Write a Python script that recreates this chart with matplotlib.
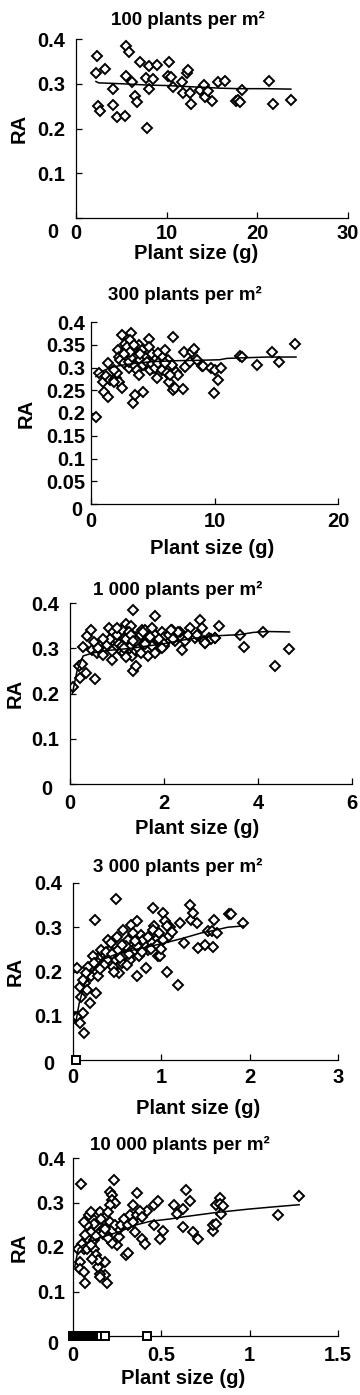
import numpy as np
import matplotlib
matplotlib.use("Agg")
import matplotlib.pyplot as plt
import matplotlib.transforms as mtransforms

plt.rcParams['font.family'] = ['Liberation Sans', 'DejaVu Sans']
plt.rcParams['font.weight'] = 'bold'

# ---- data ----
titles = ["100 plants per m²", "300 plants per m²", "1 000 plants per m²",
          "3 000 plants per m²", "10 000 plants per m²"]

# 100 plants per m2
x1 = [2.28, 2.17, 3.2, 2.39, 2.64, 4.04, 4.04, 4.48, 5.4, 5.5, 5.88, 5.5, 6.13, 6.5,
      6.7, 7.05, 7.79, 7.7, 8.08, 8.08, 8.45, 8.89, 10.28, 10.1, 10.46, 10.7, 11.64,
      11.75, 12.19, 12.37, 12.56, 12.67, 13.66, 14.1, 14.2, 14.58, 14.95, 15.68, 16.41,
      17.7, 17.9, 18.07, 18.33, 21.3, 21.74, 23.69]
y1 = [0.361, 0.323, 0.333, 0.251, 0.240, 0.288, 0.253, 0.226, 0.229, 0.385, 0.372,
      0.318, 0.305, 0.273, 0.260, 0.349, 0.201, 0.313, 0.339, 0.288, 0.311, 0.343,
      0.349, 0.317, 0.314, 0.293, 0.304, 0.279, 0.323, 0.330, 0.279, 0.255, 0.287,
      0.298, 0.270, 0.283, 0.261, 0.303, 0.307, 0.261, 0.264, 0.259, 0.285, 0.307,
      0.255, 0.264]
fit1_x = [2.2, 2.5, 5, 8, 10, 12, 14, 16, 18, 21, 23.7]
fit1_y = [0.305, 0.302, 0.300, 0.297, 0.296, 0.294, 0.292, 0.290, 0.289, 0.289, 0.288]

# 300 plants per m2
x2 = [0.43, 0.65, 0.97, 1.02, 1.35, 1.4, 1.24, 1.56, 1.83, 2.0, 2.15, 2.23, 2.23, 2.5,
      2.5, 2.77, 2.85, 3.04, 3.26, 3.18, 3.3, 3.45, 3.39, 3.58, 3.71, 3.85, 3.98, 4.12,
      4.25, 4.39, 4.66, 4.66, 4.79, 4.93, 5.06, 5.2, 5.33, 5.46, 5.6, 5.87, 6.0, 6.14,
      6.27, 6.35, 6.54, 6.68, 6.62, 6.81, 6.89, 7.08, 7.43, 7.5, 7.64, 8.02, 8.15, 8.34,
      8.56, 8.96, 9.1, 9.72, 9.99, 10.04, 10.31, 10.52, 12.06, 12.19, 13.46, 14.62,
      15.24, 16.53,
      2.37, 2.64, 2.9, 3.04, 3.3, 3.58, 3.77, 3.98, 4.25, 4.52, 4.74, 4.93, 5.2, 5.46,
      5.73, 6.0, 6.14, 6.41, 2.1, 1.83, 2.9, 3.18, 3.45, 3.71, 3.85, 1.9, 2.7, 4.0]
y2 = [0.192, 0.287, 0.268, 0.246, 0.310, 0.235, 0.281, 0.272, 0.272, 0.276, 0.339,
      0.323, 0.268, 0.256, 0.372, 0.352, 0.338, 0.298, 0.376, 0.360, 0.345, 0.331,
      0.222, 0.239, 0.316, 0.349, 0.301, 0.338, 0.246, 0.323, 0.363, 0.345, 0.309,
      0.329, 0.298, 0.316, 0.276, 0.331, 0.305, 0.323, 0.338, 0.298, 0.316, 0.268,
      0.305, 0.367, 0.250, 0.254, 0.290, 0.283, 0.252, 0.334, 0.301, 0.312, 0.334,
      0.341, 0.316, 0.303, 0.303, 0.298, 0.244, 0.294, 0.273, 0.298, 0.325, 0.323,
      0.305, 0.334, 0.312, 0.351,
      0.316, 0.309, 0.323, 0.312, 0.322, 0.303, 0.327, 0.316, 0.305, 0.312, 0.294,
      0.307, 0.300, 0.310, 0.294, 0.309, 0.287, 0.283, 0.287, 0.294, 0.345, 0.334,
      0.349, 0.294, 0.283, 0.268, 0.330, 0.330]
fit2_x = [0.4, 0.7, 1.0, 1.6, 2.5, 3.5, 5, 7, 9, 10.4, 11, 12, 14.3, 16.6]
fit2_y = [0.280, 0.287, 0.293, 0.300, 0.305, 0.309, 0.313, 0.315, 0.316, 0.317,
          0.320, 0.321, 0.323, 0.323]

# 1 000 plants per m2
x3 = [0.07, 0.21, 0.2, 0.25, 0.34, 0.27, 0.53, 0.37, 0.44, 0.46, 0.5, 0.57, 0.64, 0.71,
      0.78, 0.89, 0.82, 0.92, 0.99, 1.07, 1.14, 1.19, 1.24, 1.29, 1.35, 1.34, 1.41, 1.31,
      1.38, 1.46, 1.53, 1.6, 1.63, 1.67, 1.74, 1.8, 1.85, 1.92, 1.99, 2.06, 2.17, 2.24,
      2.34, 2.38, 2.45, 2.56, 2.66, 2.77, 2.81, 2.88, 2.95, 3.09, 3.18, 3.62, 3.71, 4.1,
      4.37, 4.67,
      0.85, 0.95, 1.0, 1.05, 1.1, 1.15, 1.2, 1.25, 1.3, 1.4, 1.45, 1.5, 1.55, 1.6, 1.7,
      1.75, 1.8, 1.9, 1.95, 2.0, 2.1, 2.2, 2.3, 1.0, 1.1, 1.2, 1.3, 1.4, 1.5, 1.6, 1.7,
      1.8, 1.9, 2.0, 0.9, 1.15, 1.35, 1.55, 1.75, 1.95, 2.15, 0.6, 0.7, 3.0, 2.5, 2.7,
      2.85, 3.08, 2.87]
y3 = [0.214, 0.234, 0.261, 0.266, 0.245, 0.303, 0.232, 0.326, 0.341, 0.297, 0.313,
      0.289, 0.304, 0.286, 0.308, 0.275, 0.345, 0.337, 0.319, 0.297, 0.323, 0.354,
      0.308, 0.349, 0.385, 0.249, 0.260, 0.282, 0.297, 0.315, 0.341, 0.326, 0.297,
      0.282, 0.337, 0.372, 0.311, 0.326, 0.304, 0.319, 0.341, 0.315, 0.337, 0.297,
      0.315, 0.345, 0.323, 0.363, 0.345, 0.311, 0.323, 0.323, 0.350, 0.330, 0.303,
      0.337, 0.261, 0.298,
      0.320, 0.300, 0.330, 0.310, 0.340, 0.290, 0.320, 0.335, 0.305, 0.325, 0.300,
      0.330, 0.310, 0.340, 0.320, 0.305, 0.330, 0.315, 0.335, 0.325, 0.330, 0.320,
      0.335, 0.345, 0.305, 0.280, 0.330, 0.315, 0.290, 0.310, 0.325, 0.290, 0.320,
      0.310, 0.295, 0.300, 0.315, 0.335, 0.345, 0.300, 0.340, 0.300, 0.320, 0.320,
      0.330, 0.330, 0.315, 0.323, 0.311]
fit3_x = [0.05, 0.15, 0.28, 0.5, 0.8, 1.3, 2.0, 2.5, 3.0, 3.6, 3.9, 4.2, 4.67]
fit3_y = [0.200, 0.250, 0.283, 0.290, 0.295, 0.300, 0.310, 0.320, 0.327, 0.330,
          0.335, 0.337, 0.336]

# 3 000 plants per m2
x4 = [0.05, 0.02, 0.05, 0.08, 0.13, 0.11, 0.08, 0.09, 0.14, 0.19, 0.25, 0.2, 0.22, 0.26,
      0.28, 0.3, 0.34, 0.4, 0.42, 0.47, 0.49, 0.5, 0.52, 0.57, 0.58, 0.62, 0.66, 0.68,
      0.72, 0.72, 0.77, 0.83, 0.85, 0.91, 0.92, 0.94, 0.96, 0.99, 1.02, 1.04, 1.06, 1.08,
      1.1, 1.19, 1.21, 1.26, 1.32, 1.34, 1.36, 1.4, 1.42, 1.49, 1.53, 1.57, 1.6, 1.58,
      1.63, 1.77, 1.79, 1.93,
      0.17, 0.23, 0.28, 0.32, 0.38, 0.43, 0.45, 0.51, 0.55, 0.6, 0.64, 0.68, 0.72, 0.75,
      0.79, 0.85, 0.89, 0.91, 0.97, 1.02, 1.06, 0.15, 0.11, 0.16, 0.35, 0.37, 0.44,
      0.53, 0.56, 0.63, 0.7, 0.78, 0.88, 0.95, 1.0, 1.12, 0.24, 0.3, 0.46, 0.61]
y4 = [0.208, 0.097, 0.098, 0.083, 0.060, 0.106, 0.166, 0.143, 0.174, 0.128, 0.317,
      0.189, 0.211, 0.151, 0.189, 0.234, 0.242, 0.272, 0.249, 0.226, 0.364, 0.279,
      0.196, 0.294, 0.234, 0.272, 0.306, 0.245, 0.313, 0.189, 0.283, 0.208, 0.249,
      0.343, 0.302, 0.272, 0.234, 0.234, 0.332, 0.313, 0.200, 0.279, 0.300, 0.170,
      0.309, 0.264, 0.351, 0.317, 0.332, 0.309, 0.253, 0.260, 0.291, 0.291, 0.317,
      0.255, 0.288, 0.331, 0.331, 0.309,
      0.211, 0.234, 0.219, 0.249, 0.226, 0.264, 0.211, 0.249, 0.219, 0.257, 0.226,
      0.287, 0.257, 0.234, 0.272, 0.279, 0.264, 0.294, 0.287, 0.272, 0.302, 0.196,
      0.181, 0.158, 0.215, 0.245, 0.240, 0.230, 0.260, 0.240, 0.270, 0.245, 0.250,
      0.260, 0.250, 0.290, 0.220, 0.205, 0.200, 0.215]
zero4_x = [0.03]
fit4_x = [0.03, 0.07, 0.12, 0.17, 0.25, 0.32, 0.5, 0.69, 0.85, 1.03, 1.26, 1.45, 1.6,
          1.75, 1.93]
fit4_y = [0.083, 0.128, 0.165, 0.189, 0.210, 0.226, 0.240, 0.249, 0.256, 0.264, 0.276,
          0.287, 0.293, 0.300, 0.303]

# 10 000 plants per m2
x5 = [0.045, 0.23, 0.21, 0.22, 0.22, 0.24, 0.21, 0.36, 0.34, 0.42, 0.46, 0.48, 0.57,
      0.59, 0.62, 0.64, 0.66, 0.49, 0.51, 0.46, 0.39, 0.41, 0.35, 0.3, 0.31, 0.25, 0.26,
      0.26, 0.19, 0.18, 0.18, 0.15, 0.15, 0.14, 0.07, 0.04, 0.04, 0.06, 0.06, 0.08, 0.09,
      0.1, 0.12, 0.14, 0.15, 0.16, 0.12, 0.13, 0.14, 0.11, 0.15, 0.17, 0.19, 0.21, 0.2,
      0.24, 0.27, 0.29, 0.31, 0.32, 0.34, 0.36, 0.38, 0.39, 0.62, 0.68, 0.71, 0.79, 0.79,
      0.81, 0.81, 0.83, 0.83, 0.84, 0.85, 1.16, 1.28,
      0.08, 0.09, 0.1, 0.05, 0.07, 0.06, 0.12, 0.17, 0.22, 0.1, 0.13, 0.18, 0.2, 0.03]
y5 = [0.342, 0.350, 0.324, 0.316, 0.305, 0.300, 0.294, 0.322, 0.294, 0.282, 0.294,
      0.303, 0.295, 0.275, 0.286, 0.327, 0.303, 0.219, 0.237, 0.249, 0.219, 0.207,
      0.234, 0.181, 0.186, 0.205, 0.222, 0.241, 0.118, 0.166, 0.136, 0.140, 0.133,
      0.155, 0.118, 0.166, 0.151, 0.144, 0.196, 0.196, 0.215, 0.234, 0.252, 0.275,
      0.279, 0.264, 0.196, 0.181, 0.170, 0.174, 0.234, 0.241, 0.226, 0.256, 0.279,
      0.249, 0.249, 0.264, 0.249, 0.271, 0.256, 0.271, 0.282, 0.267, 0.245, 0.234,
      0.219, 0.235, 0.249, 0.252, 0.294, 0.309, 0.297, 0.275, 0.292, 0.271, 0.315,
      0.249, 0.271, 0.279, 0.207, 0.226, 0.256, 0.215, 0.230, 0.210, 0.205, 0.225,
      0.240, 0.220, 0.195]
zero5_x = [0.0, 0.005, 0.01, 0.015, 0.02, 0.025, 0.03, 0.035, 0.04, 0.045, 0.05, 0.055,
           0.06, 0.065, 0.07, 0.075, 0.08, 0.085, 0.09, 0.095, 0.1, 0.105, 0.11, 0.115,
           0.12, 0.125, 0.13, 0.135, 0.14, 0.145, 0.15, 0.16, 0.18, 0.42]
fit5_x = [0.01, 0.03, 0.08, 0.16, 0.26, 0.35, 0.44, 0.55, 0.63, 0.8, 0.99, 1.13, 1.28]
fit5_y = [0.155, 0.196, 0.210, 0.222, 0.234, 0.249, 0.258, 0.263, 0.268, 0.277,
          0.285, 0.290, 0.295]

panels = [
    dict(x=x1, y=y1, fx=fit1_x, fy=fit1_y, zero=[], xlim=30, xticks=[0, 10, 20, 30],
         yticks=[0, 0.1, 0.2, 0.3, 0.4]),
    dict(x=x2, y=y2, fx=fit2_x, fy=fit2_y, zero=[], xlim=20, xticks=[0, 10, 20],
         yticks=[0, 0.05, 0.1, 0.15, 0.2, 0.25, 0.3, 0.35, 0.4]),
    dict(x=x3, y=y3, fx=fit3_x, fy=fit3_y, zero=[], xlim=6, xticks=[0, 2, 4, 6],
         yticks=[0, 0.1, 0.2, 0.3, 0.4]),
    dict(x=x4, y=y4, fx=fit4_x, fy=fit4_y, zero=zero4_x, xlim=3, xticks=[0, 1, 2, 3],
         yticks=[0, 0.1, 0.2, 0.3, 0.4]),
    dict(x=x5, y=y5, fx=fit5_x, fy=fit5_y, zero=zero5_x, xlim=1.5,
         xticks=[0, 0.5, 1, 1.5], yticks=[0, 0.1, 0.2, 0.3, 0.4]),
]

# axes boxes in pixels: left, right, top, bottom (figure 360 x 1395)
boxes = [(76, 348, 39, 218), (91, 338, 322, 504), (70, 352, 603, 784),
         (73, 338, 883, 1060), (73, 338, 1158, 1336)]
ylab_x = [-0.176, -0.223, -0.16, -0.181, -0.166]
xlab_pos = [(0.441, -0.148), (0.49, -0.195), (0.45, -0.196), (0.472, -0.222), (0.415, -0.188)]
title_pos = [(0.41, 1.106), (0.38, 1.148), (0.383, 1.072), (0.396, 1.092), (0.404, 1.073)]
xpads = [4, 6, 7, 6, 7]
ypads = [8, 4, 8, 8, 6]
zero_shift = [(-7, -12), (-3, -4), (-7, -3), (-8, -3), (-6, -6)]

W, H = 360, 1395
fig = plt.figure(figsize=(W / 100, H / 100), dpi=100)

for i, p in enumerate(panels):
    l, r, t, b = boxes[i]
    ax = fig.add_axes([l / W, 1 - b / H, (r - l) / W, (b - t) / H])
    ax.plot(p['x'], p['y'], linestyle='none', marker='D', markersize=5.3,
            markerfacecolor='white', markeredgecolor='black', markeredgewidth=1.4)
    ax.plot(p['fx'], p['fy'], color='black', linewidth=1.1)
    if p['zero']:
        ax.plot(p['zero'], [0] * len(p['zero']), linestyle='none', marker='s',
                markersize=5.5, markerfacecolor='white', markeredgecolor='black',
                markeredgewidth=1.4, clip_on=False, zorder=5)
    ax.set_xlim(0, p['xlim'])
    ax.set_ylim(0, 0.4)
    ax.set_xticks(p['xticks'])
    ax.set_yticks(p['yticks'])
    ax.set_xticklabels([f"{v:g}" for v in p['xticks']])
    ax.set_yticklabels([f"{v:g}" for v in p['yticks']])
    for s in ['top', 'right']:
        ax.spines[s].set_visible(False)
    for s in ['left', 'bottom']:
        ax.spines[s].set_linewidth(0.9)
    ax.tick_params(direction='in', length=4, width=0.9, labelsize=14.5)
    ax.tick_params(axis='x', pad=xpads[i])
    ax.tick_params(axis='y', pad=ypads[i])
    for lab in ax.get_xticklabels() + ax.get_yticklabels():
        lab.set_fontweight('bold')
    # the zero on the y axis sits a little lower and further left
    dx, dy = zero_shift[i]
    zl = ax.get_yticklabels()[0]
    zl.set_transform(zl.get_transform() +
                     mtransforms.ScaledTranslation(dx / 100, dy / 100, fig.dpi_scale_trans))
    ax.set_ylabel('RA', fontsize=14.5, fontweight='bold')
    ax.yaxis.set_label_coords(ylab_x[i], 0.5)
    ax.set_xlabel('Plant size (g)', fontsize=14.5, fontweight='bold')
    ax.xaxis.set_label_coords(*xlab_pos[i])
    ax.text(title_pos[i][0], title_pos[i][1], titles[i], transform=ax.transAxes,
            ha='center', va='center', fontsize=13.5, fontweight='bold')

fig.savefig('out.png', dpi=100)
